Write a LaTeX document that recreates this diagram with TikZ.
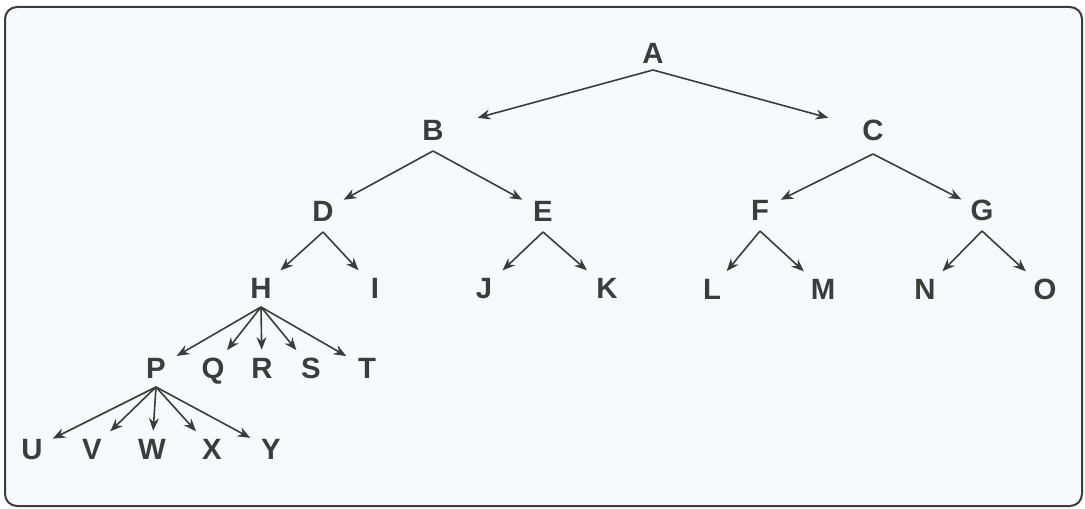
\documentclass[tikz,border=0pt]{standalone}
\usepackage{fontspec}
\setmainfont{Liberation Sans}
\usetikzlibrary{arrows.meta,calc}
\definecolor{ink}{HTML}{3C3C3C}
\definecolor{paper}{HTML}{F6F8FB}
\begin{document}
\begin{tikzpicture}[x=0.75pt,y=-0.75pt,
 lbl/.style={font=\fontsize{22}{22}\selectfont\bfseries, text=ink, minimum width=28pt, minimum height=24pt, inner sep=0pt, text height=15.5pt, text depth=0pt},
 arr/.style={draw=ink, line width=1.2pt, -{Stealth[length=9.5pt,width=7.5pt]}, shorten >=1.5pt},
 farr/.style={arr, shorten >=20pt}]
\useasboundingbox (0,0) rectangle (1085,509);
\fill[white] (0,0) rectangle (1085,509);
\draw[ink, line width=1.5pt, rounded corners=9pt, fill=paper] (5,7) rectangle (1082,506);
% level 0
\node[lbl] (A) at (653,53) {A};
% level 1
\node[lbl] (B) at (433,130) {B};
\node[lbl] (C) at (873,130) {C};
% level 2
\node[lbl] (D) at (323,211) {D};
\node[lbl] (E) at (543,211) {E};
\node[lbl] (F) at (760,210) {F};
\node[lbl] (G) at (982,210) {G};
% level 3
\node[lbl] (H) at (261,288) {H};
\node[lbl] (I) at (375,288) {I};
\node[lbl] (J) at (484,288) {J};
\node[lbl] (K) at (607,288) {K};
\node[lbl] (L) at (712,289) {L};
\node[lbl] (M) at (823,289) {M};
\node[lbl] (N) at (925,289) {N};
\node[lbl] (O) at (1045,289) {O};
% level 4
\node[lbl] (P) at (156,368) {P};
\node[lbl] (Q) at (213,368) {Q};
\node[lbl] (R) at (262,368) {R};
\node[lbl] (S) at (311,368) {S};
\node[lbl] (T) at (367,368) {T};
% level 5
\node[lbl] (U) at (32,449) {U};
\node[lbl] (V) at (92,449) {V};
\node[lbl] (W) at (152,449) {W};
\node[lbl] (X) at (212,449) {X};
\node[lbl] (Y) at (271,449) {Y};
% start points of the fans
\coordinate (As) at ($(A)+(0,17)$);
\coordinate (Bs) at ($(B)+(0,21)$);
\coordinate (Cs) at ($(C)+(0,24)$);
\coordinate (Ds) at ($(D)+(0,21)$);
\coordinate (Es) at ($(E)+(0,21)$);
\coordinate (Fs) at ($(F)+(0,21)$);
\coordinate (Gs) at ($(G)+(0,21)$);
\coordinate (Hs) at ($(H)+(0,19)$);
\coordinate (Ps) at ($(P)+(0,19)$);
% connectors
\draw[farr] (As) -- (B);
\draw[farr] (As) -- (C);
\draw[arr] (Bs) -- (D);
\draw[arr] (Bs) -- (E);
\draw[arr] (Cs) -- (F);
\draw[arr] (Cs) -- (G);
\draw[arr] (Ds) -- (H);
\draw[arr] (Ds) -- (I);
\draw[arr] (Es) -- (J);
\draw[arr] (Es) -- (K);
\draw[arr] (Fs) -- (L);
\draw[arr] (Fs) -- (M);
\draw[arr] (Gs) -- (N);
\draw[arr] (Gs) -- (O);
\foreach \c in {P,Q,R,S,T} \draw[arr] (Hs) -- (\c);
\foreach \c in {U,V,W,X,Y} \draw[arr] (Ps) -- (\c);
\end{tikzpicture}
\end{document}
